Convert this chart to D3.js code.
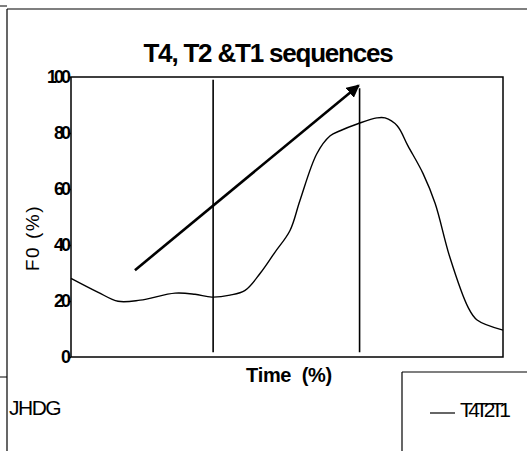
<!DOCTYPE html>
<html><head><meta charset="utf-8">
<script src="https://cdn.jsdelivr.net/npm/d3@7"></script>
<style>
body{margin:0;background:#fff;}
svg{display:block;font-family:"Liberation Sans",Arial,sans-serif;}
text{fill:#000;}
</style></head>
<body>
<svg id="c" width="527" height="451"></svg>
<script>
const title = "T4, T2 &T1 sequences";
const seriesName = "T4T2T1";
const xLabel = "Time  (%)";
const yLabel = "F0 (%)";
const note = "JHDG";
const yTicks = [0, 20, 40, 60, 80, 100];
const timeValues = [0, 6.3, 10.9, 16, 24.1, 28.7, 32.6, 36.8, 40.3, 43.8, 47.2, 50.7, 53, 56.9, 60, 62.3, 66.4, 70.8, 72.7, 75.5, 78, 81.5, 84.3, 87.7, 91.9, 94, 100];
const f0Values   = [28.1, 23.1, 19.9, 20.3, 22.8, 22.4, 21.4, 22.1, 23.8, 29.9, 37.4, 45.2, 55.9, 72.6, 79, 80.8, 83.3, 85.4, 85.4, 82.6, 75.4, 65.5, 54.8, 35.6, 17.8, 13.2, 9.6];
const boundaryTimes = [32.9, 66.8];
const boundaryTop = [99, 96];
const boundaryBottom = [1.7, 1.7];
const arrowFrom = [14.8, 31];
const arrowTo = [66.6, 97];

const svg = d3.select("#c");
const L = 71, R = 503, T = 77, B = 357;
const x = d3.scaleLinear().domain([0, 100]).range([L, R]);
const y = d3.scaleLinear().domain([0, 100]).range([B, T]);

// outer frame pieces
svg.append("line").attr("x1",7).attr("x2",527).attr("y1",9).attr("y2",9).attr("stroke","#000").attr("stroke-width",1.2);
svg.append("line").attr("x1",7).attr("x2",7).attr("y1",9).attr("y2",451).attr("stroke","#000").attr("stroke-width",1.2);
svg.append("line").attr("x1",0).attr("x2",7).attr("y1",377).attr("y2",377).attr("stroke","#000").attr("stroke-width",1);
svg.append("line").attr("x1",0).attr("x2",7).attr("y1",6).attr("y2",6).attr("stroke","#000").attr("stroke-width",1);

// title
svg.append("text").attr("x",268).attr("y",62).attr("text-anchor","middle")
  .attr("font-size",26).attr("font-weight","bold").attr("letter-spacing",-1.2).text(title);

// plot frame
svg.append("rect").attr("x",L).attr("y",T).attr("width",R-L).attr("height",B-T)
  .attr("fill","none").attr("stroke","#000").attr("stroke-width",1.5);

// y axis
const yAxis = d3.axisLeft(y).tickValues(yTicks).tickSize(3).tickPadding(0);
const gy = svg.append("g").attr("transform",`translate(${L},0)`).call(yAxis);
gy.select(".domain").remove();
gy.selectAll("line").attr("stroke","#000").attr("stroke-width",1.5);
gy.selectAll("text").attr("font-size",18).attr("font-weight","bold").attr("letter-spacing",-3)
  .attr("font-family","'Liberation Sans',Arial,sans-serif").attr("fill","#000");

svg.append("text").attr("transform","translate(39,238) rotate(-90)").attr("text-anchor","middle")
  .attr("font-size",19).attr("letter-spacing",1.5).text(yLabel);
svg.append("text").attr("x",289).attr("y",382).attr("text-anchor","middle").style("white-space","pre")
  .attr("font-size",20).attr("font-weight","bold").attr("letter-spacing",-0.3).text(xLabel);

// boundaries
boundaryTimes.forEach((t,i)=>{
  svg.append("line").attr("x1",x(t)).attr("x2",x(t)).attr("y1",y(boundaryTop[i])).attr("y2",y(boundaryBottom[i]))
    .attr("stroke","#000").attr("stroke-width",1.6);
});

// curve
const line = d3.line().x((d,i)=>x(timeValues[i])).y(d=>y(d)).curve(d3.curveCatmullRom.alpha(0.5));
svg.append("path").attr("d",line(f0Values)).attr("fill","none").attr("stroke","#000").attr("stroke-width",1.4);

// arrow
svg.append("defs").append("marker").attr("id","ah").attr("viewBox","0 0 10 10").attr("refX",9).attr("refY",5)
  .attr("markerWidth",5).attr("markerHeight",5).attr("markerUnits","strokeWidth").attr("orient","auto")
  .append("path").attr("d","M0,0 L10,5 L0,10 z").attr("fill","#000");
svg.append("line").attr("x1",x(arrowFrom[0])).attr("y1",y(arrowFrom[1])).attr("x2",x(arrowTo[0])).attr("y2",y(arrowTo[1]))
  .attr("stroke","#000").attr("stroke-width",2.6).attr("marker-end","url(#ah)");

// note
svg.append("text").attr("x",9).attr("y",415).attr("font-size",21).attr("letter-spacing",-1.5).text(note);

// legend box
svg.append("line").attr("x1",402).attr("x2",402).attr("y1",372).attr("y2",451).attr("stroke","#000").attr("stroke-width",1.2);
svg.append("line").attr("x1",402).attr("x2",527).attr("y1",372).attr("y2",372).attr("stroke","#000").attr("stroke-width",1.2);
svg.append("line").attr("x1",430).attr("x2",455).attr("y1",413).attr("y2",413).attr("stroke","#000").attr("stroke-width",1.2);
svg.append("text").attr("x",460).attr("y",417).attr("font-size",21).attr("letter-spacing",-4.5).text(seriesName);
</script>
</body></html>
